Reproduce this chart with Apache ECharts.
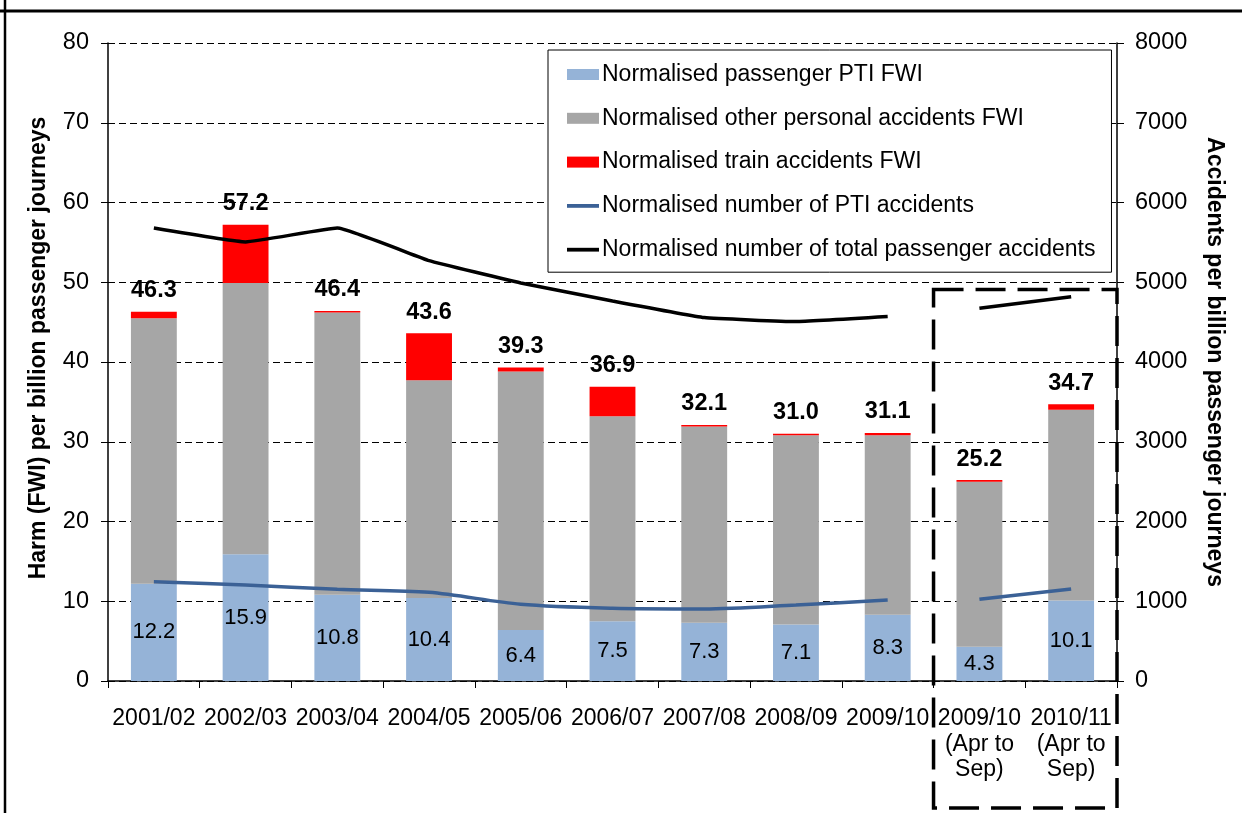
<!DOCTYPE html>
<html>
<head>
<meta charset="utf-8">
<script src="https://cdn.jsdelivr.net/npm/echarts@6/dist/echarts.min.js"></script>
<style>
html,body{margin:0;padding:0;background:#fff;}
#c{width:1242px;height:813px;}
</style>
</head>
<body>
<div id="c"></div>
<script>
const categories = ['2001/02','2002/03','2003/04','2004/05','2005/06','2006/07','2007/08','2008/09','2009/10','2009/10\n(Apr to\nSep)','2010/11\n(Apr to\nSep)'];
const ptiFwi   = [12.2, 15.9, 10.8, 10.4, 6.4, 7.5, 7.3, 7.1, 8.3, 4.3, 10.1];
const otherFwi = [33.3, 34.0, 35.4, 27.3, 32.4, 25.7, 24.6, 23.7, 22.5, 20.7, 23.9];
const trainFwi = [0.8, 7.3, 0.2, 5.9, 0.5, 3.7, 0.2, 0.2, 0.3, 0.2, 0.7];
const totalFwi = [46.3, 57.2, 46.4, 43.6, 39.3, 36.9, 32.1, 31.0, 31.1, 25.2, 34.7];
const ptiAccidents   = [1245, 1204, 1150, 1112, 962, 912, 903, 953, 1016, 1024, 1154];
const totalAccidents = [5680, 5506, 5680, 5272, 4991, 4765, 4557, 4507, 4570, 4674, 4819];
const leftTicks = [0, 80, 10];
const rightTicks = [0, 8000, 1000];

const FONT = '"Liberation Sans", Arial, sans-serif';
const nFull = 9;
const part1 = (arr) => arr.map((v, i) => i < nFull ? v : null);
const part2 = (arr) => arr.map((v, i) => i >= nFull ? v : null);

const names = {
  pti: 'Normalised passenger PTI FWI',
  other: 'Normalised other personal accidents FWI',
  train: 'Normalised train accidents FWI',
  ptiN: 'Normalised number of PTI accidents',
  totN: 'Normalised number of total passenger accidents'
};
const lineIcon = 'path://M0,0 L32,0 L32,3.8 L0,3.8 Z';

const chart = echarts.init(document.getElementById('c'), null, {renderer: 'canvas'});

const option = {
  animation: false,
  textStyle: {fontFamily: FONT},
  grid: {left: 108, right: 125, top: 43, bottom: 132, containLabel: false},
  legend: {
    orient: 'vertical',
    left: 548, top: 50,
    padding: [13, 16, 11, 19],
    itemGap: 20.8,
    itemWidth: 32, itemHeight: 11,
    backgroundColor: '#fff',
    borderColor: '#000', borderWidth: 1,
    textStyle: {fontFamily: FONT, fontSize: 23, color: '#000', lineHeight: 22, padding: [0,0,0,-2]},
    data: [
      {name: names.pti, icon: 'rect'},
      {name: names.other, icon: 'rect'},
      {name: names.train, icon: 'rect'},
      {name: names.ptiN, icon: lineIcon},
      {name: names.totN, icon: lineIcon}
    ]
  },
  xAxis: {
    type: 'category',
    data: categories,
    boundaryGap: true,
    axisLine: {lineStyle: {color: '#000', width: 1.5}},
    axisTick: {show: true, length: 7, lineStyle: {color: '#000', width: 1}},
    axisLabel: {interval: 0, color: '#000', fontSize: 23, fontFamily: FONT, margin: 25, lineHeight: 25.5}
  },
  yAxis: [
    {
      type: 'value', min: leftTicks[0], max: leftTicks[1], interval: leftTicks[2],
      name: 'Harm (FWI) per billion passenger journeys',
      nameLocation: 'middle', nameGap: 58, nameRotate: 90,
      nameTextStyle: {fontFamily: FONT, fontSize: 23, fontWeight: 'bold', color: '#000', padding: [0, 0, 0, 28]},
      axisLine: {show: true, lineStyle: {color: '#000', width: 1.5}},
      axisTick: {show: true, length: 7, lineStyle: {color: '#000'}},
      axisLabel: {color: '#000', fontSize: 23.5, fontFamily: FONT, margin: 19},
      splitLine: {show: true, lineStyle: {color: '#000', type: [7, 4], width: 1}}
    },
    {
      type: 'value', min: rightTicks[0], max: rightTicks[1], interval: rightTicks[2],
      name: 'Accidents per billion passenger journeys',
      nameLocation: 'middle', nameGap: 86, nameRotate: -90,
      nameTextStyle: {fontFamily: FONT, fontSize: 23, fontWeight: 'bold', color: '#000'},
      axisLine: {show: true, lineStyle: {color: '#000', width: 1.5}},
      axisTick: {show: true, length: 7, lineStyle: {color: '#000'}},
      axisLabel: {color: '#000', fontSize: 23.5, fontFamily: FONT, margin: 18, formatter: (v) => String(v)},
      splitLine: {show: false}
    }
  ],
  series: [
    {
      name: names.pti, type: 'bar', stack: 'fwi', data: ptiFwi, barWidth: '50%',
      itemStyle: {color: '#95b3d7'},
      label: {show: true, position: 'inside', color: '#000', fontSize: 22, fontFamily: FONT,
        formatter: (p) => p.value.toFixed(1)}
    },
    {
      name: names.other, type: 'bar', stack: 'fwi', data: otherFwi, barWidth: '50%',
      itemStyle: {color: '#a6a6a6'}
    },
    {
      name: names.train, type: 'bar', stack: 'fwi', data: trainFwi, barWidth: '50%',
      itemStyle: {color: '#ff0000'},
      label: {show: true, position: 'top', distance: 9, color: '#000', fontSize: 23.5, fontWeight: 'bold', fontFamily: FONT,
        formatter: (p) => totalFwi[p.dataIndex].toFixed(1)}
    },
    {
      name: names.ptiN, type: 'line', yAxisIndex: 1, data: part1(ptiAccidents),
      symbol: 'none', smooth: 0.3, connectNulls: false, z: 5,
      lineStyle: {color: '#3b6196', width: 3.5}, itemStyle: {color: '#3b6196'}
    },
    {
      name: names.ptiN, type: 'line', yAxisIndex: 1, data: part2(ptiAccidents),
      symbol: 'none', smooth: 0.3, connectNulls: false, z: 5,
      lineStyle: {color: '#3b6196', width: 3.5}, itemStyle: {color: '#3b6196'}
    },
    {
      name: names.totN, type: 'line', yAxisIndex: 1, data: part1(totalAccidents),
      symbol: 'none', smooth: 0.1, connectNulls: false, z: 5,
      lineStyle: {color: '#000', width: 3.5}, itemStyle: {color: '#000'}
    },
    {
      name: names.totN, type: 'line', yAxisIndex: 1, data: part2(totalAccidents),
      symbol: 'none', smooth: 0.1, connectNulls: false, z: 5,
      lineStyle: {color: '#000', width: 3.5}, itemStyle: {color: '#000'}
    }
  ]
};
chart.setOption(option);

// frame lines and dashed highlight box around the half-year categories
const c9 = chart.convertToPixel({xAxisIndex: 0}, 9);
const c10 = chart.convertToPixel({xAxisIndex: 0}, 10);
const band = c10 - c9;
const boxLeft = c9 - band / 2;
const boxRight = c10 + band / 2;
const boxTop = chart.convertToPixel({yAxisIndex: 0}, 49.1);
const boxBottom = 808;

chart.setOption({
  graphic: [
    {type: 'line', shape: {x1: 0, y1: 11, x2: 1242, y2: 11}, style: {stroke: '#000', lineWidth: 3}, z: 100},
    {type: 'line', shape: {x1: 5, y1: 0, x2: 5, y2: 813}, style: {stroke: '#000', lineWidth: 2.5}, z: 100},
    {type: 'rect', shape: {x: boxLeft, y: boxTop, width: boxRight - boxLeft, height: boxBottom - boxTop},
     style: {fill: null, stroke: '#000', lineWidth: 3.5, lineDash: [30, 12]}, z: 100}
  ]
});
</script>
</body>
</html>
